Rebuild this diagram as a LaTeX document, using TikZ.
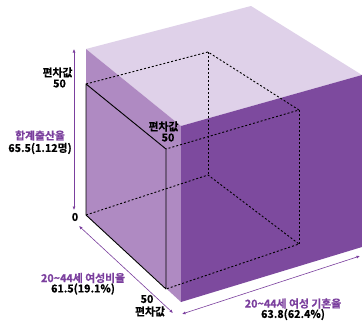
\documentclass[tikz,border=0pt]{standalone}
\usepackage{fontspec}
\setmainfont{Noto Sans CJK KR}[BoldFont={Noto Sans CJK KR Bold}, BoldFeatures={FakeBold=0.6}]
\usetikzlibrary{arrows.meta}
\definecolor{topface}{HTML}{DFD1E9}
\definecolor{leftface}{HTML}{AF8AC2}
\definecolor{rightface}{HTML}{7D4A9E}
\definecolor{purp}{HTML}{7B3F9E}
\tikzset{
  lbl/.style={font=\bfseries\fontsize{10.8}{11}\selectfont, inner sep=0pt, text=black},
  plbl/.style={lbl, text=purp},
  solidedge/.style={draw=black, line width=0.9pt, line join=round},
  hidden/.style={draw=black, line width=0.9pt, dash pattern=on 2pt off 2pt},
  dim/.style={draw=purp, line width=0.6pt, {Latex[length=3.5pt,width=3pt]}-{Latex[length=3.5pt,width=3pt]}}
}
\begin{document}
\begin{tikzpicture}[x=1pt,y=-1pt]
\useasboundingbox (0,0) rectangle (362,324);
\fill[white] (0,0) rectangle (362,324);
% outer box corners
\coordinate (OL) at (86,49);
\coordinate (OB) at (251,6);
\coordinate (OR) at (362,75);
\coordinate (OF) at (181,126);
\coordinate (OLb) at (86,215);
\coordinate (OFb) at (181,302);
\coordinate (ORb) at (362,247);
\fill[topface] (OL) -- (OB) -- (OR) -- (OF) -- cycle;
\fill[leftface] (OL) -- (OF) -- (OFb) -- (OLb) -- cycle;
\fill[rightface] (OF) -- (OR) -- (ORb) -- (OFb) -- cycle;
% inner box corners
\coordinate (A) at (86,84);
\coordinate (B) at (166,149);
\coordinate (C) at (166,289);
\coordinate (D) at (86,215);
\coordinate (E) at (208,52);
\coordinate (F) at (299,110);
\coordinate (G) at (299,244);
\coordinate (H) at (208,175);
\draw[hidden] (A) -- (E) -- (F) -- (B);
\draw[hidden] (E) -- (H);
\draw[hidden] (F) -- (G);
\draw[hidden] (D) -- (H) -- (G) -- (C);
\draw[solidedge] (D) -- (A) -- (B) -- (C) -- cycle;
% dimension arrows
\coordinate (v1) at (74,49);
\coordinate (v2) at (74,210);
\coordinate (d1) at (79,226);
\coordinate (d2) at (173,313);
\coordinate (r1) at (182,314);
\coordinate (r2) at (360,256);
\draw[dim] (v1) -- (v2);
\draw[dim] (d1) -- (d2);
\draw[dim] (r1) -- (r2);
% labels
\node[lbl] (t1) at (57.5,72.5) {편차값};
\node[lbl] (t2) at (59.5,83.5) {50};
\node[plbl] (t3) at (40,135.5) {합계출산율};
\node[lbl] (t4) at (40,148.5) {65.5(1.12명)};
\node[lbl] (t5) at (75,217) {0};
\node[lbl] (t6) at (163.5,126.5) {편차값};
\node[lbl] (t7) at (168,137.5) {50};
\node[plbl] (t8) at (83,278) {20\textasciitilde44세 여성비율};
\node[lbl] (t9) at (83,289) {61.5(19.1\%)};
\node[lbl] (t10) at (147,299) {50};
\node[lbl] (t11) at (150,311.5) {편차값};
\node[plbl] (t12) at (293,303.5) {20\textasciitilde44세 여성 기혼율};
\node[lbl] (t13) at (293,314.5) {63.8(62.4\%)};
\end{tikzpicture}
\end{document}
